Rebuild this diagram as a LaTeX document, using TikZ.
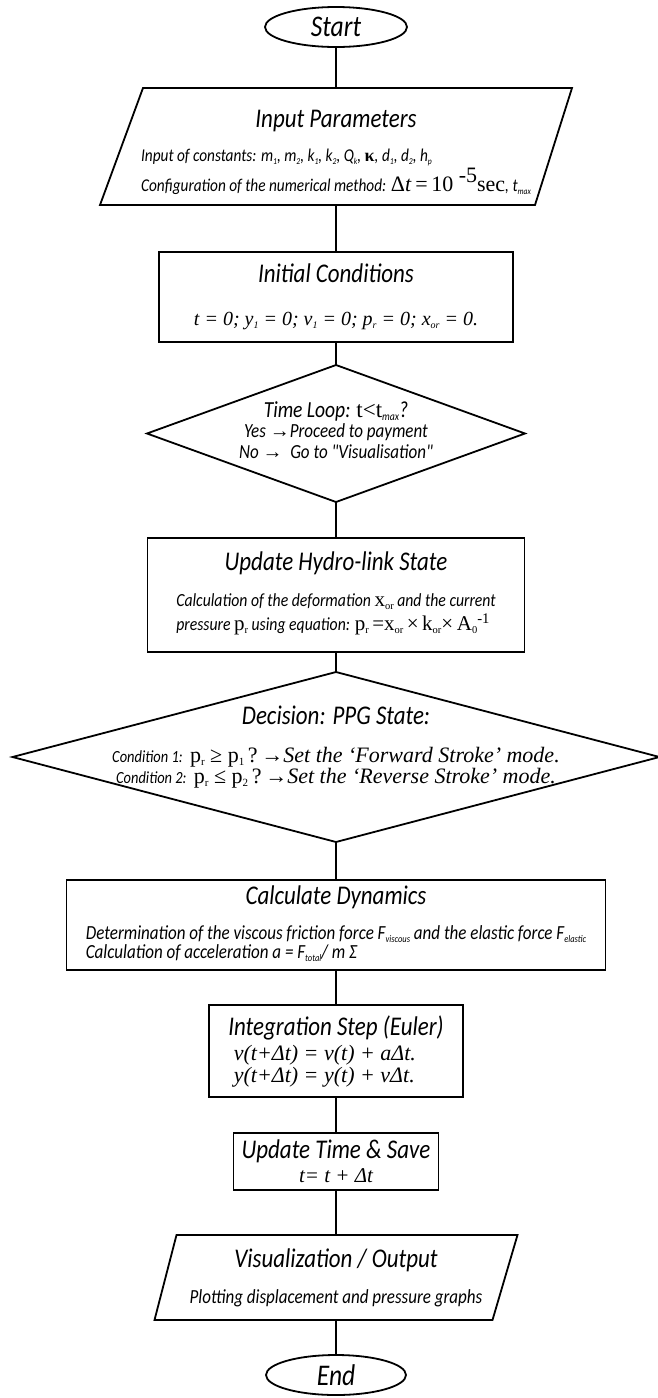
\documentclass[tikz,border=0pt]{standalone}
\usepackage{fontspec}
\usepackage{graphicx}
\setmainfont{Liberation Serif}
\newfontfamily\isofam{Carlito}[FakeStretch=0.85]
\usetikzlibrary{positioning,shapes.geometric}
\newcommand{\boxtitle}{\isofam\itshape\fontsize{27}{27}\selectfont}
\newcommand{\boxnote}{\isofam\itshape\fontsize{18}{18}\selectfont}
\newcommand{\boxeq}{\rmfamily\itshape\fontsize{20}{20}\selectfont}
\newcommand{\sr}{\rmfamily\upshape}
\newcommand{\lo}[1]{\raisebox{-0.12em}{\scalebox{0.5}{#1}}}
\tikzset{%
terminal/.style={draw,ellipse,minimum width=142pt,minimum height=40pt,inner sep=0pt,font=\isofam\itshape\fontsize{30}{30}\selectfont},
io/.style={rectangle,inner sep=0pt,align=center},
process/.style={draw,rectangle,inner sep=0pt,align=center},
decision/.style={draw,diamond,inner sep=0pt},
inside/.style={inner sep=0pt,align=center},
link/.style={draw}
}

\begin{document}
\begin{tikzpicture}[line width=1.8pt,every node/.append style={outer sep=0pt}]
    \useasboundingbox (0,0) rectangle (657pt,-1398pt);

    \node[terminal] (start) at (336pt,-27pt) {Start};
    \node[io,minimum width=472pt,minimum height=117pt,
          font=\fontsize{18}{32}\selectfont,below=41pt of start] (input)
      {\raisebox{-7pt}[\height][\depth]{\begin{tabular}{@{}l@{}}
       \multicolumn{1}{@{}c@{}}{\boxtitle Input Parameters}\\[2pt]
       {\boxnote Input of constants: m\lo{1}, m\lo{2}, k\lo{1}, k\lo{2}, Q\lo{k}, {\sr\bfseries κ}, d\lo{1}, d\lo{2}, h\lo{p}}\\[-3pt]
       {\boxnote Configuration of the numerical method: {\sr\fontsize{22}{22}\selectfont Δ\textit{t}\,=\,10 \raisebox{9pt}{-5}sec}, t\lo{max}}
       \end{tabular}}};
    \draw ([xshift=43pt]input.north west) -- (input.north east)
          -- ([xshift=-37pt]input.south east) -- (input.south west) -- cycle;
    \node[process,minimum width=354pt,minimum height=90pt,
          font=\fontsize{20}{43}\selectfont,below=47pt of input] (init)
      {{\boxtitle Initial Conditions}\\
       {\boxeq t = 0; y\lo{1} = 0; v\lo{1} = 0; p\lo{r} = 0; x\lo{or} = 0.}};
    \node[decision,minimum width=378pt,minimum height=137pt,below=23pt of init,
          label={[inside,font=\isofam\itshape\fontsize{20}{21}\selectfont,yshift=3pt]center:{%
            {\fontsize{23}{23}\selectfont Time Loop: {\sr t<t}\lo{max}?}\\[-1pt]
            Yes {\sr →}Proceed to payment\\
            No {\sr →}\ \ Go to "Visualisation"}}] (loop) {};
    \node[process,minimum width=377pt,minimum height=114pt,
          font=\fontsize{18.5}{24}\selectfont,below=36pt of loop] (hydro)
      {\begin{tabular}{@{}l@{}}
       \multicolumn{1}{@{}c@{}}{\boxtitle Update Hydro-link State}\\[12pt]
       {\isofam\itshape Calculation of the deformation {\sr\fontsize{21}{21}\selectfont x\lo{or}} and the current}\\
       {\isofam\itshape pressure {\sr\fontsize{21}{21}\selectfont p\lo{r}} using equation: {\sr\fontsize{21}{21}\selectfont p\lo{r}\,=x\lo{or}\,×\,k\lo{or}×\,A\lo{0}\textsuperscript{-1}}}
       \end{tabular}};
    \node[decision,minimum width=647pt,minimum height=170pt,below=20pt of hydro,
          label={[inside,font=\fontsize{22}{21}\selectfont,yshift=10pt]center:{%
            {\boxtitle Decision: PPG State:}\\[17pt]
            {\isofam\itshape\fontsize{17}{17}\selectfont Condition 1:} {\sr p\lo{r} ≥ p\lo{1}\,?\,→}{\itshape Set the ‘Forward Stroke’ mode.}\\
            {\isofam\itshape\fontsize{17}{17}\selectfont Condition 2:} {\sr p\lo{r} ≤ p\lo{2}\,?\,→}{\itshape Set the ‘Reverse Stroke’ mode.}}}] (ppg) {};
    \node[process,minimum width=539pt,minimum height=90pt,
          font=\fontsize{20}{17}\selectfont,below=38pt of ppg] (dyn)
      {\begin{tabular}{@{}l@{}}
       \multicolumn{1}{@{}c@{}}{\boxtitle Calculate Dynamics}\\[16pt]
       {\isofam\itshape Determination of the viscous friction force F\lo{viscous} and the elastic force F\lo{elastic}}\\
       {\isofam\itshape Calculation of acceleration a = F\lo{total}/ m Σ}
       \end{tabular}};
    \node[process,minimum width=254pt,minimum height=92pt,align=left,
          font=\fontsize{22}{22}\selectfont,below=35pt of dyn] (euler)
      {{\boxtitle Integration Step (Euler)}\\[3pt]
       {\boxeq\fontsize{22}{22}\selectfont \ v(t+Δt) = v(t) + aΔt.}\\
       {\boxeq\fontsize{22}{22}\selectfont \ y(t+Δt) = y(t) + vΔt.}};
    \node[process,minimum width=205pt,minimum height=57pt,
          font=\fontsize{21}{24}\selectfont,below=36pt of euler] (tick)
      {{\boxtitle Update Time \& Save}\\
       {\boxeq\fontsize{21}{21}\selectfont t= t + Δt}};
    \node[io,minimum width=363pt,minimum height=85pt,
          font=\fontsize{20}{36}\selectfont,below=45pt of tick] (vis)
      {{\boxtitle Visualization / Output}\\
       {\isofam\itshape\fontsize{20}{20}\selectfont Plotting displacement and pressure graphs}};
    \draw ([xshift=22pt]vis.north west) -- (vis.north east)
          -- ([xshift=-25pt]vis.south east) -- (vis.south west) -- cycle;
    \node[terminal,minimum width=140pt,below=35pt of vis] (end) {End};

    \path[link] (start) edge (input)
                (input) edge (init)
                (init)  edge (loop)
                (loop)  edge (hydro)
                (hydro) edge (ppg)
                (ppg)   edge (dyn)
                (dyn)   edge (euler)
                (euler) edge (tick)
                (tick)  edge (vis)
                (vis)   edge (end);

\end{tikzpicture}
\end{document}
